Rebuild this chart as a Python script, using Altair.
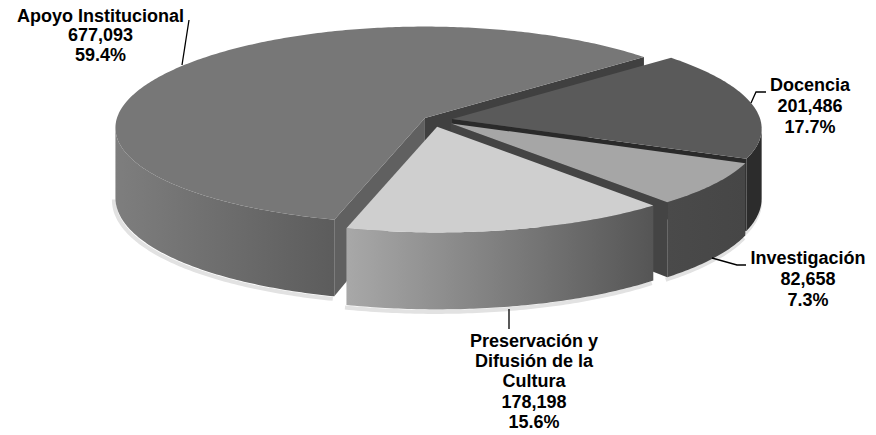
import math
import altair as alt

# ---- chart data
names = ["Docencia", "Investigación", "Preservación y\nDifusión de la\nCultura", "Apoyo Institucional"]
values = [201486, 82658, 178198, 677093]
percents = ["17.7%", "7.3%", "15.6%", "59.4%"]

# ---- look
top_fill = ["#5a5a5a", "#a6a6a6", "#cfcfcf", "#777777"]
wall_left = ["#2c2c2c", "#4a4a4a", "#a8a8a8", "#7e7e7e"]
wall_right = ["#2c2c2c", "#464646", "#555555", "#5c5c5c"]
cut_fill = ["#2a2a2a", "#444444", None, "#404040"]
cut_start_fill = "#606060"
apex_nudge = [(0, -1), (1.5, 0), (-4, 1.5), (-1, 0)]

START_DEG = -40.5
CX, CY = 438.0, 120.6
EXPLODE = 14.3
R, K, P = 308.0, 0.33, 0.10

# label anchors (page px: x centre, y centre of each line) and leader lines
label_x = [810, 808, 534, 100.5]
label_y = [
    [86, 107, 128],
    [259, 280, 301],
    [342, 362, 382, 403, 423],
    [16.5, 35.5, 56],
]
leaders = [
    [(751, 103), (756, 92), (766, 92)],
    [(712, 258), (737, 265), (746, 265)],
    [(509, 309), (509, 329)],
    [(182, 65), (189, 20)],
]
FONT = "Liberation Sans"
FONT_SIZE = 18


def height(y):
    return 69 + 8 * y


def poly(pts):
    ring = [list(p) for p in pts] + [list(pts[0])]
    return {"type": "Feature", "properties": {}, "geometry": {"type": "Polygon", "coordinates": [ring]}}


def line(pts):
    return {"type": "Feature", "properties": {}, "geometry": {"type": "LineString", "coordinates": [list(p) for p in pts]}}


total = sum(values)
slices = []
a = START_DEG
for v in values:
    span = 360.0 * v / total
    slices.append((a, a + span))
    a += span


def make_slice(i):
    a0, a1 = slices[i]
    mid = math.radians((a0 + a1) / 2)
    ax = CX + EXPLODE * math.cos(mid) + apex_nudge[i][0]
    ay = CY + EXPLODE * K * math.sin(mid) + apex_nudge[i][1]
    n = max(8, int((a1 - a0) / 0.75))
    top, bot, ys = [], [], []
    for j in range(n + 1):
        t = math.radians(a0 + (a1 - a0) * j / n)
        X, Y = math.cos(t), math.sin(t)
        sx = ax + R * X * (1 + P * Y)
        sy = ay + R * K * Y * (0.97 + 0.07 * Y)
        top.append((sx, sy))
        bot.append((sx, sy + height(Y)))
        ys.append(Y)
    return (ax, ay), top, bot, ys


proj = dict(type="identity", scale=1, translate=[-8, -8])


def feats(items):
    return alt.InlineData(values={"type": "FeatureCollection", "features": items},
                          format=alt.DataFormat(property="features", type="json"))


def shape(item, fill):
    return alt.Chart(feats([item])).mark_geoshape(fill=fill, stroke=None, strokeWidth=0).project(**proj)


layers = []
shadow_lines = []
for i in [3, 0, 1, 2]:
    apex, top, bot, ys = make_slice(i)
    apex_b = (apex[0], apex[1] + height(0))
    # the wall runs only over the part of the rim that faces the viewer
    xs = [p[0] for p in top]
    if i == 3:
        keep = range(0, xs.index(min(xs)) + 1)
    elif i == 0:
        keep = range(xs.index(max(xs)), len(xs))
    else:
        keep = range(len(xs))
    wt, wb = [top[j] for j in keep], [bot[j] for j in keep]
    shadow_lines.append(line([(p[0] - 1.5, p[1] + 2.5) for p in wb]))
    if cut_fill[i]:
        layers.append(shape(poly([apex, top[-1], bot[-1], apex_b]), cut_fill[i]))
    grad = alt.Gradient(gradient="linear", x1=0, x2=1, y1=0, y2=0,
                        stops=[alt.GradientStop(color=wall_left[i], offset=0),
                               alt.GradientStop(color=wall_right[i], offset=1)])
    layers.append(shape(poly(wt + wb[::-1]), grad))
    if i == 3:
        layers.append(shape(poly([apex, top[0], bot[0], apex_b]), cut_start_fill))
    layers.append(shape(poly([apex] + top), top_fill[i]))

shadow_layer = alt.Chart(feats(shadow_lines)).mark_geoshape(
    filled=False, stroke="#e2e2e2", strokeWidth=4).project(**proj)

leader_layer = alt.Chart(feats([line(p) for p in leaders])).mark_geoshape(
    filled=False, stroke="#000000", strokeWidth=1.3).project(**proj)

rows = []
for name, v, pct, lx, lys in zip(names, values, percents, label_x, label_y):
    parts = name.split("\n") + [f"{v:,}", pct]
    for s, ly in zip(parts, lys):
        rows.append({"lon": lx, "lat": ly, "txt": s})

text_layer = alt.Chart(alt.Data(values=rows)).mark_text(
    font=FONT, fontSize=FONT_SIZE, fontWeight="bold", color="#000000", align="center", baseline="middle"
).encode(longitude="lon:Q", latitude="lat:Q", text="txt:N").project(**proj)

chart = alt.layer(shadow_layer, *layers, leader_layer, text_layer).properties(
    width=860, height=426, padding=0, autosize=alt.AutoSizeParams(type="none")
).configure_view(stroke=None).configure(background="#ffffff")

chart.save("out.html", embed_options={"renderer": "svg", "actions": False})
